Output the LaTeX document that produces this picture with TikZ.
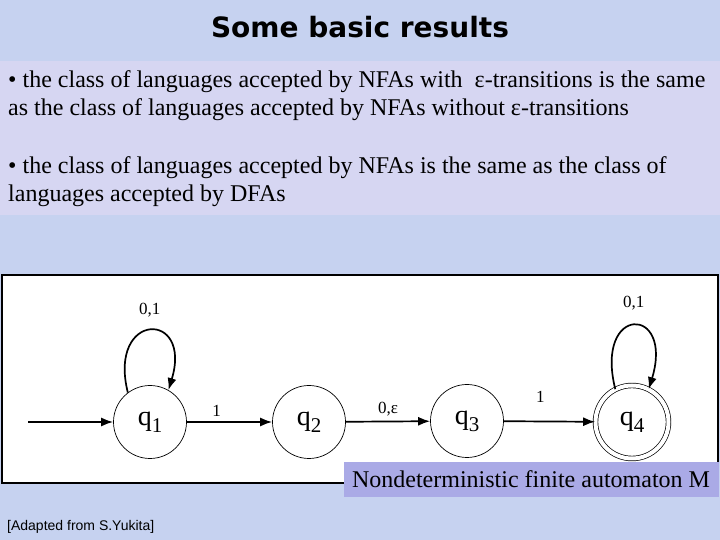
\documentclass[tikz,border=0pt]{standalone}
\usepackage{fontspec}
\setmainfont{Liberation Serif}
\newfontfamily\titlefont{DejaVu Sans}
\newfontfamily\notefont{Liberation Sans}
\usetikzlibrary{arrows.meta}
\definecolor{slidebg}{RGB}{198,210,240}
\definecolor{textbox}{RGB}{214,214,242}
\definecolor{capbox}{RGB}{170,170,230}

\begin{document}
\begin{tikzpicture}[x=1pt,y=1pt,
    state/.style={shape=circle,draw=black,line width=0.7pt,minimum size=73pt,inner sep=0pt,fill=white},
    trans/.style={-{Latex[length=12pt,width=9pt]},line width=1.7pt},
    lbl/.style={font=\fontsize{17}{17}\selectfont,inner sep=1pt},
    body/.style={anchor=base west,align=left,inner sep=0pt,font=\fontsize{24}{28}\selectfont}]
    \fill[slidebg] (0,0) rectangle (720,540);
    \useasboundingbox (0,0) rectangle (720,540);

    \node[font=\titlefont\bfseries\fontsize{28}{28}\selectfont,anchor=base] (title) at (360,502) {Some basic results};

    \fill[textbox] (0,479) rectangle (720,325);
    % base anchor sits on the last line
    \node[body] (bulletA) at (8,424) {• the class of languages accepted by NFAs with \ ε-transitions is the same\\as the class of languages accepted by NFAs without ε-transitions};
    \node[body] (bulletB) at (8,338) {• the class of languages accepted by NFAs is the same as the class of\\languages accepted by DFAs};

    \draw[line width=2pt,fill=white] (2,265) rectangle (718,57);

    \newcommand{\qname}[1]{\fontsize{28}{28}\selectfont q\raisebox{-7pt}{\fontsize{21}{21}\selectfont #1}}
    \node[state] (q1) at (150,118) {\qname{1}};
    \node[state] (q2) at (309,118) {\qname{2}};
    \node[state] (q3) at (467,119) {\qname{3}};
    \node[state,double,double distance=4pt] (q4) at (632,118) {\qname{4}};
    \coordinate (start) at (28,118);

    \path [trans] (start) edge (q1);
    \path [trans] (q1) edge node[lbl,pos=0.35,above=4pt] {1} (q2);
    \path [trans] (q2) edge node[lbl,pos=0.5,above=4pt] {0,ε} (q3);
    \path [trans] (q3) edge node[lbl,pos=0.4,above=17pt] {1} (q4);
    \path [trans] (q1.127) edge [out=104,in=73,out distance=84pt,in distance=84pt] node[lbl,above=12pt] {0,1} (q1.60);
    \path [trans] (q4.117) edge [out=104,in=73,out distance=88pt,in distance=88pt] node[lbl,above=14pt] {0,1} (q4.63);

    \node[fill=capbox,minimum width=375pt,minimum height=35pt,inner sep=0pt,font=\fontsize{24}{24}\selectfont] (caption) at (531,60.5) {Nondeterministic finite automaton M};

    \node[font=\notefont\fontsize{14}{14}\selectfont,anchor=base west,inner sep=0pt] (credit) at (7,9) {[Adapted from S.Yukita]};
\end{tikzpicture}
\end{document}
